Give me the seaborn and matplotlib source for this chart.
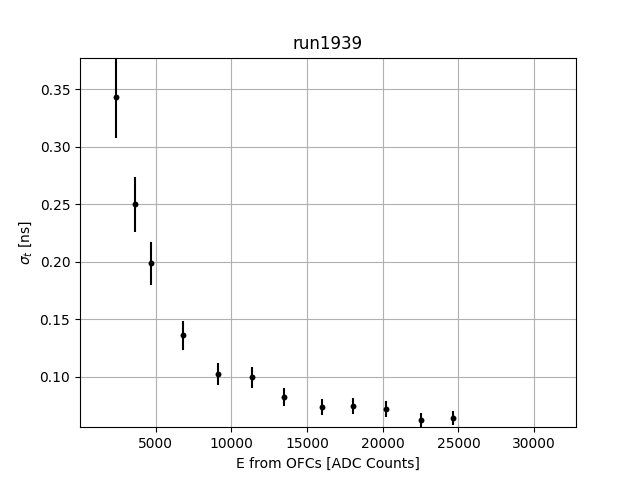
import matplotlib
matplotlib.use("Agg")
import matplotlib.pyplot as plt
import seaborn as sns
import pandas as pd

energy = [2378, 3653, 4690, 6824, 9136, 11363, 13497, 16007, 18055, 20235, 22527, 24660]
sigma_t = [0.3428, 0.2498, 0.1985, 0.1362, 0.1023, 0.0995, 0.0821, 0.0734, 0.0742, 0.0719, 0.0620, 0.0641]
sigma_err = [0.035, 0.024, 0.0186, 0.0126, 0.0097, 0.009, 0.0079, 0.0070, 0.0070, 0.0071, 0.0066, 0.0057]

df = pd.DataFrame({"E": energy, "sigma": sigma_t, "err": sigma_err})

fig, ax = plt.subplots(figsize=(6.4, 4.8), dpi=100)
ax.errorbar(df["E"], df["sigma"], yerr=df["err"], fmt="none", ecolor="black", elinewidth=1.5, zorder=2)
sns.scatterplot(data=df, x="E", y="sigma", ax=ax, color="black", s=18, edgecolor="black", linewidth=0, zorder=3)

ax.set_xlim(0, 32768)
ax.set_ylim(0.0561, 0.3773)
ax.set_xticks([5000, 10000, 15000, 20000, 25000, 30000])
ax.grid(True, color="#b0b0b0", linewidth=0.8)
ax.set_axisbelow(True)
ax.set_title("run1939")
ax.set_xlabel("E from OFCs [ADC Counts]")
ax.set_ylabel(r"$\sigma_t$ [ns]")
fig.savefig("out.png", dpi=100)
